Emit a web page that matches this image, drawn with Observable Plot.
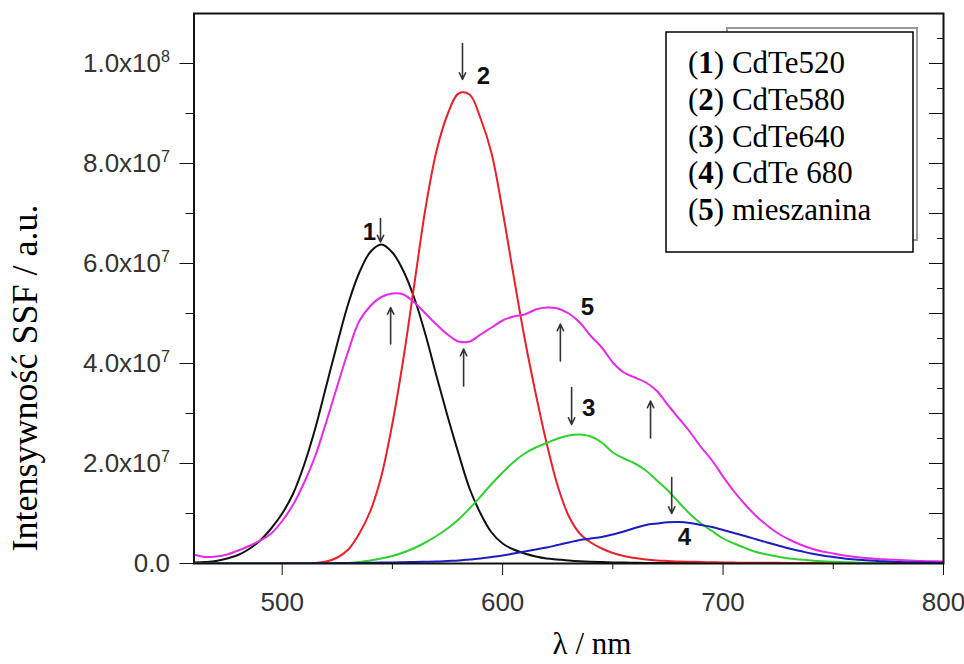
<!DOCTYPE html>
<html>
<head>
<meta charset="utf-8">
<script src="https://cdn.jsdelivr.net/npm/d3@7"></script>
<script src="https://cdn.jsdelivr.net/npm/@observablehq/plot@0.6"></script>
<style>
  body { margin: 0; background: #fff; }
  #chart { position: relative; width: 964px; height: 664px; overflow: hidden; }
  #chart svg g[aria-label$="tick label"] text { fill: #333; }
</style>
</head>
<body>
<div id="chart"></div>
<script>
// wavelength grid (nm), 460..800 step 5
const wavelengths = [460,465,470,475,480,485,490,495,500,505,510,515,520,525,530,535,540,545,550,555,560,565,570,575,580,585,590,595,600,605,610,615,620,625,630,635,640,645,650,655,660,665,670,675,680,685,690,695,700,705,710,715,720,725,730,735,740,745,750,755,760,765,770,775,780,785,790,795,800];

// intensities in units of 1e6 a.u.
const cdte520 = [0.2,0.3,0.5,1.0,1.7,2.9,4.6,7.0,10.0,14.0,19.8,27.0,35.5,44.0,52.0,58.2,62.3,63.8,62.2,58.5,53.0,45.8,37.5,29.5,22.0,15.0,10.0,6.2,4.0,2.8,2.0,1.4,1.0,0.8,0.6,0.45,0.35,0.28,0.22,0.18,0.15,0.12,0.1,0.1,0.1,0.1,0.1,0.1,0.1,0.08,0.08,0.08,0.07,0.07,0.06,0.06,0.06,0.05,0.05,0.05,0.05,0.05,0.05,0.05,0.05,0.05,0.05,0.05,0.05];
const cdte580 = [0,0,0,0,0,0,0,0,0,0,0.05,0.1,0.4,1.2,2.8,6.0,10.5,17.5,28.0,41.0,56.0,71.0,82.5,89.8,94.0,93.8,89.0,82.0,70.5,57.5,45.0,34.0,24.0,15.5,9.5,6.0,4.2,3.0,2.1,1.5,1.1,0.8,0.6,0.5,0.4,0.35,0.3,0.25,0.2,0.18,0.16,0.15,0.14,0.13,0.12,0.11,0.1,0.1,0.09,0.09,0.08,0.08,0.07,0.07,0.06,0.06,0.05,0.05,0.05];
const cdte640 = [0,0,0,0,0,0,0,0,0,0,0,0,0,0,0.1,0.3,0.6,1.0,1.5,2.2,3.1,4.2,5.5,7.0,8.8,11.0,13.4,15.9,18.2,20.3,22.0,23.2,24.1,25.0,25.6,25.8,25.4,24.2,22.2,21.0,20.0,18.6,16.6,14.6,12.2,9.9,8.0,6.5,5.0,4.0,3.1,2.3,1.8,1.35,1.0,0.8,0.6,0.45,0.35,0.27,0.2,0.16,0.12,0.1,0.08,0.07,0.06,0.05,0.05];
const cdte680 = [0,0,0,0,0,0,0,0,0.02,0.03,0.04,0.05,0.06,0.08,0.1,0.12,0.15,0.18,0.2,0.25,0.3,0.35,0.4,0.5,0.6,0.8,1.0,1.3,1.6,2.0,2.4,2.8,3.2,3.7,4.2,4.7,5.0,5.3,5.8,6.4,7.1,7.7,8.0,8.25,8.3,8.1,7.7,7.3,6.7,6.1,5.5,4.85,4.2,3.6,3.0,2.5,2.0,1.6,1.3,1.0,0.8,0.65,0.5,0.4,0.3,0.25,0.2,0.18,0.15];
const mieszanina = [1.8,1.3,1.4,1.8,2.6,3.5,4.6,6.0,8.5,11.8,16.2,21.5,28.3,35.5,42.5,48.5,51.5,53.3,54.0,53.8,52.2,50.0,47.8,45.8,44.4,44.4,45.8,47.2,48.6,49.4,49.8,50.8,51.2,51.0,50.0,48.2,45.5,43.2,40.2,38.2,37.2,36.2,34.5,31.7,29.0,26.3,23.3,20.6,17.4,14.4,11.8,9.5,7.6,6.0,4.8,3.8,3.0,2.4,2.0,1.6,1.3,1.1,0.9,0.8,0.7,0.6,0.5,0.45,0.4];

// axis ticks
const xMajorTicks = [500, 600, 700, 800];
const xMinorTicks = [550, 650, 750];
const yMajorTicks = [0, 2e7, 4e7, 6e7, 8e7, 1e8];
const yTickLabels = ["0.0", "2.0x10^7", "4.0x10^7", "6.0x10^7", "8.0x10^7", "1.0x10^8"];
const yMinorTicks = [1e7, 3e7, 5e7, 7e7, 9e7];
const rightMajorTicks = [1e7, 2e7, 3e7, 4e7, 5e7, 6e7, 7e7, 8e7, 9e7, 1e8];
const rightMinorTicks = [5e6, 1.5e7, 2.5e7, 3.5e7, 4.5e7, 5.5e7, 6.5e7, 7.5e7, 8.5e7, 9.5e7, 1.05e8];

// curve labels and arrows (data units: nm, a.u.)
const annotLabels = ["1", "2", "3", "4", "5"];
const annotX = [539.6, 591.3, 639.0, 682.5, 638.5];
const annotY = [66.2e6, 97.4e6, 31.0e6, 5.2e6, 51.2e6];
const arrowX = [544.6, 581.8, 631.3, 676.7, 549.2, 582.3, 626.2, 667.1];
const arrowFrom = [69.0e6, 104.0e6, 35.2e6, 17.2e6, 43.9e6, 35.5e6, 40.5e6, 25.1e6];
const arrowTo = [64.3e6, 96.8e6, 27.8e6, 10.0e6, 51.2e6, 42.9e6, 47.9e6, 32.5e6];

// legend
const legendNumbers = ["1", "2", "3", "4", "5"];
const legendNames = ["CdTe520", "CdTe580", "CdTe640", "CdTe 680", "mieszanina"];

const series = [
  {name: "CdTe520", values: cdte520, color: "#111111"},
  {name: "CdTe580", values: cdte580, color: "#e8202a"},
  {name: "CdTe640", values: cdte640, color: "#2fd12f"},
  {name: "mieszanina", values: mieszanina, color: "#e62ae6"},
  {name: "CdTe 680", values: cdte680, color: "#1c1cc0"}
];
const rows = s => wavelengths.map((w, i) => ({wl: w, v: s.values[i] * 1e6}));
const labels = annotLabels.map((t, i) => ({t, x: annotX[i], y: annotY[i]}));
const arrows = arrowX.map((x, i) => ({x, y1: arrowFrom[i], y2: arrowTo[i]}));

const plot = Plot.plot({
  width: 964,
  height: 664,
  marginLeft: 193.5,
  marginRight: 21,
  marginTop: 13,
  marginBottom: 101,
  x: {domain: [460, 800]},
  y: {domain: [0, 1.1e8]},
  style: {fontFamily: "'Liberation Sans', Arial, sans-serif", background: "#fff", color: "#111"},
  marks: [
    ...series.map(s => Plot.line(rows(s), {x: "wl", y: "v", stroke: s.color, strokeWidth: 2, curve: "catmull-rom", clip: true})),
    Plot.arrow(arrows, {x1: "x", y1: "y1", x2: "x", y2: "y2", stroke: "#333", strokeWidth: 1.6, headLength: 7, headAngle: 50}),
    Plot.text(labels, {x: "x", y: "y", text: "t", fontSize: 24, fontWeight: "bold", fill: "#111"}),
    Plot.axisY({ticks: yMajorTicks, tickSize: 14, tickPadding: 10, fontSize: 26, tickFormat: d => yTickLabels[yMajorTicks.indexOf(d)], label: null}),
    Plot.axisY({ticks: yMinorTicks, tickSize: 8, tickFormat: () => "", label: null}),
    Plot.axisY({anchor: "right", ticks: rightMajorTicks, tickSize: -15, tickFormat: () => "", label: null}),
    Plot.axisY({anchor: "right", ticks: rightMinorTicks, tickSize: -7, tickFormat: () => "", label: null}),
    Plot.axisX({ticks: xMajorTicks, tickSize: 12, tickPadding: 17, fontSize: 26, label: null}),
    Plot.axisX({ticks: xMinorTicks, tickSize: 6, tickFormat: () => "", label: null}),
    Plot.frame({stroke: "#111", strokeWidth: 2})
  ]
});

document.getElementById("chart").appendChild(plot);

const svg = d3.select(plot);
// superscript exponents on y tick labels
svg.selectAll("text").each(function() {
  const t = this.textContent;
  if (t.includes("^")) {
    const [base, exp] = t.split("^");
    this.textContent = base;
    d3.select(this).append("tspan").attr("dy", "-0.6em").attr("font-size", "0.62em").text(exp);
  }
});

// axis titles
svg.append("text")
  .attr("transform", "translate(37,378) rotate(-90)")
  .attr("text-anchor", "middle")
  .attr("font-family", "'Liberation Serif', 'Times New Roman', serif")
  .attr("font-size", 36)
  .attr("fill", "#000")
  .text("Intensywność SSF / a.u.");
svg.append("text")
  .attr("x", 592).attr("y", 654)
  .attr("text-anchor", "middle")
  .attr("font-family", "'Liberation Serif', 'Times New Roman', serif")
  .attr("font-size", 31)
  .attr("fill", "#000")
  .text("λ / nm");

// legend box
const lg = svg.append("g").attr("text-anchor", "start");
lg.append("rect").attr("x", 727).attr("y", 28).attr("width", 190).attr("height", 212)
  .attr("fill", "none").attr("stroke", "#999").attr("stroke-width", 2);
lg.append("rect").attr("x", 666).attr("y", 32).attr("width", 247).attr("height", 220)
  .attr("fill", "#fff").attr("stroke", "#000").attr("stroke-width", 1.5);
legendNames.forEach((name, i) => {
  const t = lg.append("text")
    .attr("x", 688).attr("y", 73 + i * 36.8)
    .attr("text-anchor", "start")
    .attr("font-family", "'Liberation Serif', 'Times New Roman', serif")
    .attr("font-size", 31).attr("fill", "#000");
  t.append("tspan").text("(");
  t.append("tspan").attr("font-weight", "bold").text(legendNumbers[i]);
  t.append("tspan").text(") " + name);
});
</script>
</body>
</html>
